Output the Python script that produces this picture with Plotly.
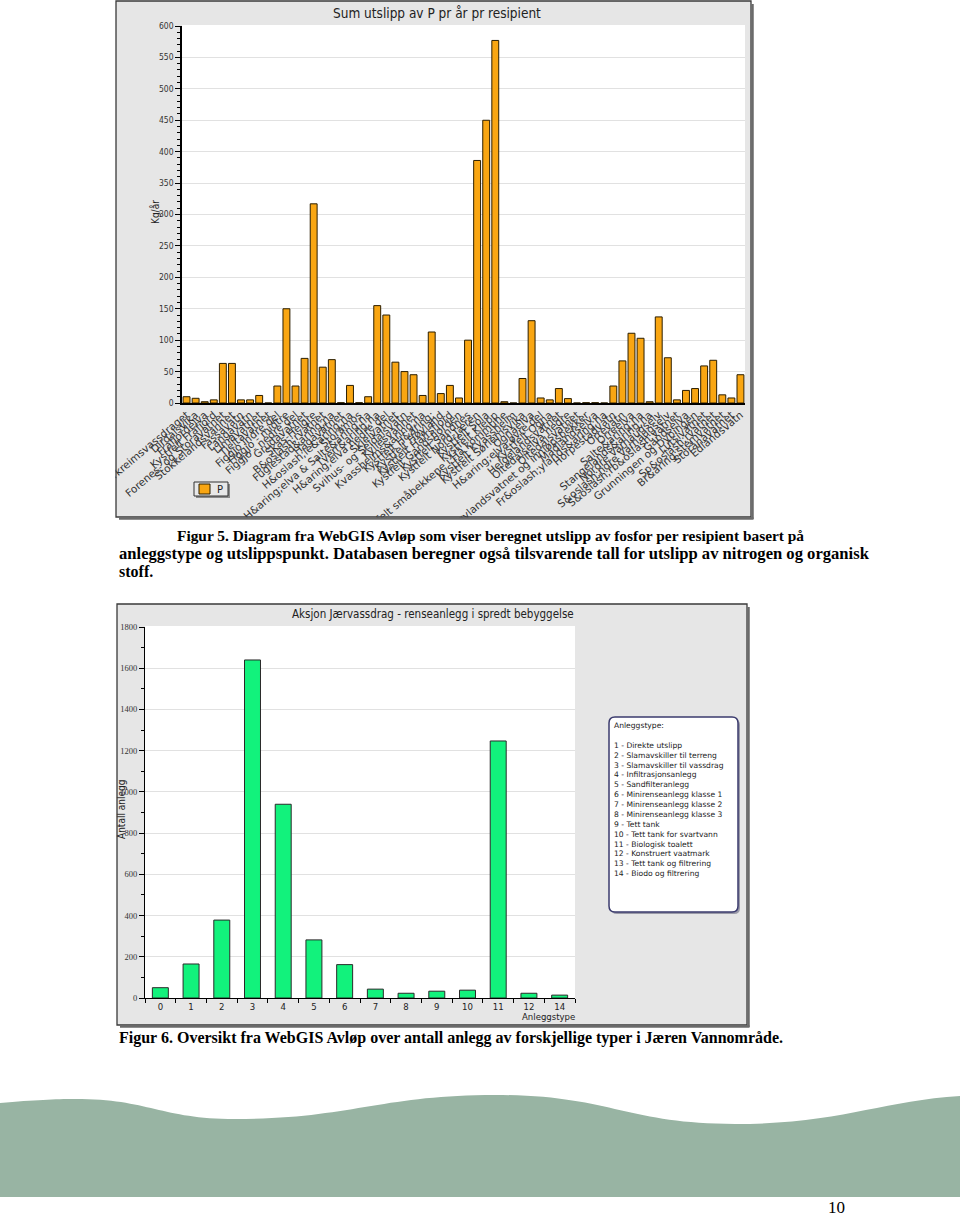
import plotly.graph_objects as go

W, H = 960, 1217

# ---------------- data: chart 1 (P per resipient) ----------------
resipienter = [
    "Bjerkreimsvassdraget", "Dirdalsvika", "Frafjordelva", "Kystfelt Frafjord",
    "Forenes- og Storavatnet", "Stokkelandsvannet", "Fassavatn", "Langavatn",
    "Limavatnet", "Tjeltavatnet", "Figgjo indre del", "Figgjo - midtre",
    "Figgjo - nedre del", "Grudavatnet", "Skas-Heigre", "B&oslash;rvatnet",
    "Fuglestad&aring;na", "Hagavatnet", "H&oslash;le&aring;na", "Storamos",
    "H&aring;elva & Salte&aring;na", "Tverr&aring;na", "H&aring;elva nedre del", "Skjeivatnet",
    "Svihus- og Seldalsvatn", "Kyllesvannet", "Kvassheims&aring;na", "Kystfelt H&aring;",
    "Kystfelt Høyland", "Kystfelt Hafrsfjord", "Kystfelt Gandsfjorden", "Kystfelt Sandnes",
    "Kystfelt Nord-Jæren", "Kystfelt Sola", "Kystfelt Klepp", "Kystfelt småbekkene i Hå kommune",
    "Kystfelt Kvassheim", "Kystfelt Sørlemsvika", "Ognaelva", "H&aring;elva øvre del",
    "Kystfelt Ogna", "Helgelandsvatnet", "Oltedalselva nedre", "Oltedalsvatnet",
    "Frøylandsvatnet og innløpsbekker", "Madlandselva", "Fr&oslash;ylands&aring;na", "Horpestadvatn",
    "Orrevatn", "Orreelva", "Salte&aring;na", "Stangelands&aring;na",
    "Nordre Varhaugselv", "S&oslash;ndre Varhaugselv", "S&oslash;rb&oslash;vatnet", "Gandselva",
    "Grunningen og Dybingen", "Lutsivatnet", "Sp&oslash;rvatnet", "Br&aring;stemvatnet",
    "Storånavatnet", "Edlandsvatn",
]
p_kg = [
    10, 7.5, 2, 5, 63, 63, 5, 5, 12, 0,
    27, 150, 27, 71, 317, 57, 69, 0.5, 28, 0.5,
    10, 155, 140, 65, 50, 45, 12, 113, 15, 28,
    8, 100, 386, 450, 577, 2, 0, 39, 131, 8,
    5, 23, 7, 0, 0.5, 0.5, 0, 27, 67, 111,
    103, 2, 137, 72, 5, 20, 23, 59, 68, 13,
    8, 45,
]
y1_ticks = list(range(0, 601, 50))

# ---------------- data: chart 2 (antall anlegg per type) ----------------
anleggstype = ["0", "1", "2", "3", "4", "5", "6", "7", "8", "9", "10", "11", "12", "14"]
antall = [50, 165, 378, 1640, 940, 282, 162, 43, 23, 33, 38, 1247, 23, 14]
y2_ticks = list(range(0, 1801, 200))
typer = [
    "1 - Direkte utslipp", "2 - Slamavskiller til terreng", "3 - Slamavskiller til vassdrag",
    "4 - Infiltrasjonsanlegg", "5 - Sandfilteranlegg", "6 - Minirenseanlegg klasse 1",
    "7 - Minirenseanlegg klasse 2", "8 - Minirenseanlegg klasse 3", "9 - Tett tank",
    "10 - Tett tank for svartvann", "11 - Biologisk toalett", "12 - Konstruert vaatmark",
    "13 - Tett tank og filtrering", "14 - Biodo og filtrering",
]

# ---------------- helpers (pixel -> paper) ----------------
def fx(x):
    return x / W

def fy(y):
    return 1 - y / H

def P(x, y):
    return f"{fx(x):.5f},{fy(y):.5f}"

def rect(x0, y0, x1, y1, fill, line=None, lw=0, layer="below"):
    return dict(type="rect", xref="paper", yref="paper",
                x0=fx(x0), x1=fx(x1), y0=fy(y1), y1=fy(y0),
                fillcolor=fill, layer=layer,
                line=dict(color=line or "rgba(0,0,0,0)", width=lw))

def seg(x0, y0, x1, y1, color, lw, layer="above"):
    return dict(type="line", xref="paper", yref="paper",
                x0=fx(x0), x1=fx(x1), y0=fy(y0), y1=fy(y1),
                layer=layer, line=dict(color=color, width=lw))

def rounded(x0, y0, x1, y1, r):
    return (f"M{P(x0 + r, y0)} L{P(x1 - r, y0)} Q{P(x1, y0)} {P(x1, y0 + r)} "
            f"L{P(x1, y1 - r)} Q{P(x1, y1)} {P(x1 - r, y1)} L{P(x0 + r, y1)} "
            f"Q{P(x0, y1)} {P(x0, y1 - r)} L{P(x0, y0 + r)} Q{P(x0, y0)} {P(x0 + r, y0)} Z")

SANS = "DejaVu Sans"
COND = "DejaVu Sans Condensed, DejaVu Sans"
SERIF = "Liberation Serif, Times New Roman, serif"

fig = go.Figure()
fig.add_trace(go.Bar(
    x=resipienter, y=p_kg, xaxis="x", yaxis="y", name="P", width=0.76,
    marker=dict(color="#F9A612", line=dict(color="#2b1e00", width=1)),
    showlegend=False, hoverinfo="x+y"))
fig.add_trace(go.Bar(
    x=anleggstype, y=antall, xaxis="x2", yaxis="y2", name="Antall", width=0.52,
    marker=dict(color="#12F27C", line=dict(color="#2a2a2a", width=1)),
    showlegend=False, hoverinfo="x+y"))

shapes = []
# chart 1 frame
shapes.append(rect(116, 1, 751, 517, "#e6e6e6"))
shapes.append(rect(182, 25, 745, 403, "#ffffff"))
# chart 2 frame
shapes.append(rect(117, 604, 747, 1025, "#e6e6e6"))
shapes.append(rect(145, 626, 575, 998, "#ffffff"))
# footer wave
wave = (f"M{P(0, 1103)} C{P(35, 1100)} {P(55, 1099)} {P(75, 1099)} "
        f"C{P(150, 1099)} {P(160, 1119)} {P(235, 1119)} "
        f"C{P(350, 1119)} {P(380, 1095)} {P(495, 1095)} "
        f"C{P(610, 1095)} {P(625, 1124)} {P(735, 1124)} "
        f"C{P(840, 1124)} {P(880, 1101)} {P(960, 1096)} "
        f"L{P(960, 1197)} L{P(0, 1197)} Z")
shapes.append(dict(type="path", xref="paper", yref="paper", path=wave,
                   fillcolor="#98b4a3", line=dict(width=0), layer="below"))
# masks for label overflow outside chart-1 image
shapes.append(rect(0, 0, 115.5, 520, "#ffffff", layer="above"))
shapes.append(rect(0, 518.5, 960, 600, "#ffffff", layer="above"))
# chart 1 border + shadow
shapes.append(rect(116, 1, 751, 517, "rgba(0,0,0,0)", "#3a3a3a", 1.3, layer="above"))
shapes.append(seg(752.5, 4, 752.5, 519, "#6a6a6a", 2.5))
shapes.append(seg(119, 518.5, 753.5, 518.5, "#6a6a6a", 2.5))
# chart 2 border + shadow
shapes.append(rect(117, 604, 747, 1025, "rgba(0,0,0,0)", "#3a3a3a", 1.3, layer="above"))
shapes.append(seg(748.5, 607, 748.5, 1027, "#6a6a6a", 2.5))
shapes.append(seg(120, 1026.5, 749.5, 1026.5, "#6a6a6a", 2.5))
# chart 1 legend box
shapes.append(rect(196, 484, 230, 498, "#8a8a8a", layer="above"))
shapes.append(rect(194, 482, 228, 496, "#e8e8e8", "#333333", 1, layer="above"))
shapes.append(rect(199, 484, 210, 494, "#F9A612", "#2b1e00", 1, layer="above"))
# chart 2 type box
shapes.append(dict(type="path", xref="paper", yref="paper", path=rounded(611, 719, 740, 914, 6),
                   fillcolor="#9a9aa8", line=dict(width=0), layer="above"))
shapes.append(dict(type="path", xref="paper", yref="paper", path=rounded(609, 717, 738, 912, 6),
                   fillcolor="#ffffff", line=dict(color="#3b3b6e", width=1.5), layer="above"))

ann = []
def text(x, y, s, size, family=SANS, color="#1a1a1a", angle=0, xanchor="center",
         yanchor="middle", weight="normal", align="center"):
    ann.append(dict(x=fx(x), y=fy(y), xref="paper", yref="paper", text=s, showarrow=False,
                    xanchor=xanchor, yanchor=yanchor, textangle=angle, align=align,
                    font=dict(size=size, family=family, color=color, weight=weight)))

text(437, 13, "Sum utslipp av P pr år pr resipient", 13.5, COND, "#222")
text(155, 212, "Kg/år", 10, COND, "#222", angle=-90)
text(215, 489.5, "P", 10, SANS, "#222", xanchor="left")

cap_font = 16
text(175, 535, "Figur 5. Diagram fra WebGIS Avløp som viser beregnet utslipp av fosfor per resipient basert på",
     15.4, SERIF, "#000", xanchor="left", weight="bold")
text(117, 553, "anleggstype og utslippspunkt. Databasen beregner også tilsvarende tall for utslipp av nitrogen og organisk",
     16.6, SERIF, "#000", xanchor="left", weight="bold")
text(117, 571, "stoff.", cap_font, SERIF, "#000", xanchor="left", weight="bold")

text(433, 614, "Aksjon Jærvassdrag - renseanlegg i spredt bebyggelse", 11.5, COND, "#222")
text(121, 810, "Antall anlegg", 10, COND, "#222", angle=-90)
text(548, 1016, "Anleggstype", 9.5, COND, "#222")
text(612, 719, "<br>".join(["Anleggstype:", ""] + typer), 7.6, SANS, "#1a1a1a",
     xanchor="left", yanchor="top", align="left")

text(117, 1038, "Figur 6. Oversikt fra WebGIS Avløp over antall anlegg av forskjellige typer i Jæren Vannområde.",
     cap_font, SERIF, "#000", xanchor="left", weight="bold")
text(836, 1207, "10", 17, SERIF, "#000")

fig.update_layout(
    width=W, height=H, margin=dict(l=0, r=0, t=0, b=0, autoexpand=False),
    paper_bgcolor="#ffffff", plot_bgcolor="rgba(0,0,0,0)",
    shapes=shapes, annotations=ann, showlegend=False,
    xaxis=dict(domain=[fx(182), fx(745)], anchor="y", type="category",
               tickmode="array", tickvals=resipienter, ticktext=resipienter,
               tickangle=-40, tickfont=dict(family=SANS, size=10.5, color="#333"),
               showline=True, linecolor="#000", linewidth=1.5, ticks="", showgrid=False,
               automargin=False, range=[-0.5, len(resipienter) - 0.5], fixedrange=True),
    yaxis=dict(domain=[fy(403), fy(26)], anchor="x", range=[0, 600],
               tickmode="array", tickvals=y1_ticks, ticks="outside", ticklen=5, tickcolor="#000",
               tickfont=dict(family=COND, size=8.5, color="#333"),
               showline=True, linecolor="#000", linewidth=1.5, showgrid=True, gridcolor="#e1e1e1",
               zeroline=False, automargin=False,
               minor=dict(dtick=10, tick0=0, ticks="outside", ticklen=3, tickcolor="#000", showgrid=False)),
    xaxis2=dict(domain=[fx(145), fx(575)], anchor="y2", type="category",
                tickmode="array", tickvals=anleggstype, ticktext=anleggstype,
                ticks="outside", tickson="boundaries", ticklen=4, tickcolor="#000",
                tickfont=dict(family=COND, size=9.5, color="#222"),
                showline=True, linecolor="#000", linewidth=1, showgrid=False,
                automargin=False, range=[-0.5, len(anleggstype) - 0.5]),
    yaxis2=dict(domain=[fy(998), fy(627)], anchor="x2", range=[0, 1800],
                tickmode="array", tickvals=y2_ticks, ticks="outside", ticklen=5, tickcolor="#000",
                tickfont=dict(family=SERIF, size=8.5, color="#333"),
                showline=True, linecolor="#000", linewidth=1, showgrid=True, gridcolor="#e1e1e1",
                zeroline=False, automargin=False,
                minor=dict(dtick=100, tick0=0, ticks="outside", ticklen=3, tickcolor="#000", showgrid=False)),
)

fig.write_html("out.html")
